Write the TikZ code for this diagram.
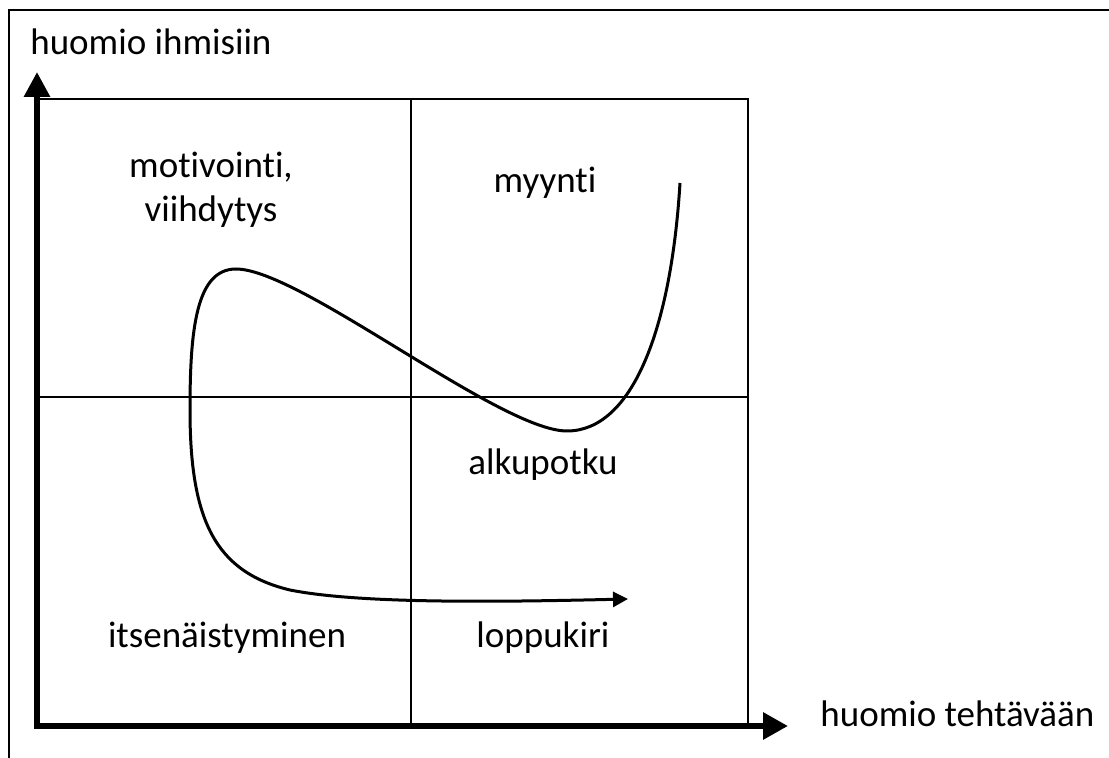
\documentclass[tikz,border=0pt]{standalone}
\usepackage{fontspec}
\setmainfont{Carlito}[Ligatures={NoCommon}]
\usetikzlibrary{arrows.meta}
\begin{document}
\begin{tikzpicture}[x=0.5pt,y=-0.5pt,
  lbl/.style={font=\fontsize{18.5}{22}\selectfont, inner sep=0pt, anchor=base, align=center},
  axis/.style={line width=3pt, line join=miter, {Triangle[length=12.5pt,width=12.5pt]}-{Triangle[length=12.5pt,width=13pt]}},
  grid/.style={line width=0.75pt},
  curve/.style={line width=1.5pt, -{Triangle[length=7.5pt,width=7.5pt]}},
  frame/.style={line width=0.75pt}]
\useasboundingbox (0,0) rectangle (1109,758);
% outer frame (top and left edges visible)
\draw[frame] (9,758) -- (9,10) -- (1109,10);
% coordinates
\coordinate (ytip) at (37,72);
\coordinate (origin) at (37,726);
\coordinate (xtip) at (788,726);
\coordinate (tl) at (37,99);
\coordinate (tr) at (748,99);
\coordinate (br) at (748,726);
\coordinate (mt) at (411,99);
\coordinate (mb) at (411,726);
\coordinate (ml) at (37,397);
\coordinate (mr) at (748,397);
% grid
\draw[grid] (tl) -- (tr) -- (br);
\draw[grid] (mt) -- (mb);
\draw[grid] (ml) -- (mr);
% axes
\draw[axis] (ytip) -- (origin) -- (xtip);
% curve
\coordinate (c0) at (680,183);
\coordinate (c1) at (567,431);
\coordinate (c2) at (236,269);
\coordinate (c3) at (190,410);
\coordinate (c4) at (290,590);
\coordinate (c5) at (628,599);
\draw[curve] (c0) .. controls (671,330) and (632,431) .. (c1)
  .. controls (500,431) and (300,269) .. (c2)
  .. controls (196,269) and (190,330) .. (c3)
  .. controls (190,520) and (215,572) .. (c4)
  .. controls (360,604) and (500,602) .. (c5);
% labels
\node[lbl, anchor=base west] (yl) at (30,55) {huomio ihmisiin};
\node[lbl, anchor=base west] (xl) at (820,727) {huomio tehtävään};
\node[lbl] (mot) at (211,222) {motivointi,\\viihdytys};
\node[lbl] (myy) at (545,193) {myynti};
\node[lbl] (alk) at (543,475) {alkupotku};
\node[lbl] (its) at (227,648) {itsenäistyminen};
\node[lbl] (lop) at (543,648) {loppukiri};
\end{tikzpicture}
\end{document}
